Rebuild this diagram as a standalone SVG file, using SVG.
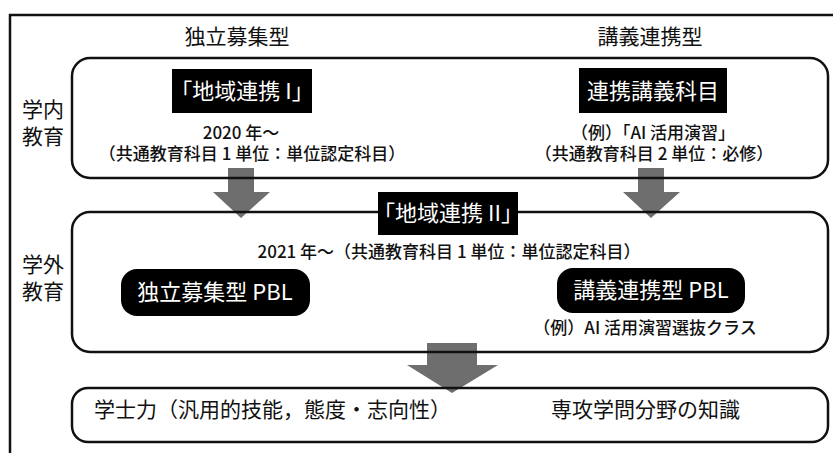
<svg xmlns="http://www.w3.org/2000/svg" width="833" height="453" viewBox="0 0 833 453">
<style>
text{font-family:"Noto Sans CJK JP","Noto Sans",sans-serif;fill:#111}
.h{font-size:21px}
.s{font-size:17px;font-weight:500}
.w{fill:#fff;font-size:22px}
.box{fill:none;stroke:#111;stroke-width:2.5}
.blk{fill:#000}
.arr{fill:#6e6e6e}
</style>
<rect width="833" height="453" fill="#fff"/>
<path d="M10,453 V15 H833" fill="none" stroke="#111" stroke-width="2.5"/>
<g id="connectors">
<polygon class="arr" points="228,168 254,168 254,192 270,192 241,218 213,192 228,192"/>
<polygon class="arr" points="638,168 664,168 664,192 680,192 651,218 623,192 638,192"/>
<polygon class="arr" points="427,343 477,343 477,365 498,365 452,393 407,365 427,365"/>
</g>
<g id="headers">
<text class="h" x="237" y="44" text-anchor="middle">独立募集型</text>
<text class="h" x="650" y="44" text-anchor="middle">講義連携型</text>
</g>
<g id="inner">
<rect class="box" x="72" y="58" width="756" height="120" rx="18"/>
<text class="h" text-anchor="middle"><tspan x="43" y="117">学内</tspan><tspan x="43" y="144">教育</tspan></text>
</g>
<g id="chiiki1">
<rect class="blk" x="172" y="69" width="140" height="44"/>
<text class="w" x="242" y="99" text-anchor="middle">「地域連携 I」</text>
<text class="s" text-anchor="middle"><tspan x="241" y="139">2020 年～</tspan><tspan x="252" y="160">（共通教育科目 1 単位：単位認定科目）</tspan></text>
</g>
<g id="renkei">
<rect class="blk" x="579" y="68" width="148" height="45"/>
<text class="w" x="653" y="99" text-anchor="middle">連携講義科目</text>
<text class="s" text-anchor="middle"><tspan x="653" y="139">（例）「AI 活用演習」</tspan><tspan x="654" y="160">（共通教育科目 2 単位：必修）</tspan></text>
</g>
<g id="outer">
<rect class="box" x="72" y="212" width="756" height="140" rx="18"/>
<text class="h" text-anchor="middle"><tspan x="43" y="272">学外</tspan><tspan x="43" y="299">教育</tspan></text>
</g>
<g id="chiiki2">
<rect class="blk" x="378" y="192" width="140" height="43"/>
<text class="w" x="448" y="221" text-anchor="middle">「地域連携 II」</text>
<text class="s" x="449" y="258" text-anchor="middle">2021 年～（共通教育科目 1 単位：単位認定科目）</text>
</g>
<g id="pbl1">
<rect class="blk" x="121" y="269" width="189" height="47" rx="16"/>
<text class="w" x="215" y="300" text-anchor="middle">独立募集型 PBL</text>
</g>
<g id="pbl2">
<rect class="blk" x="557" y="268" width="188" height="45" rx="16"/>
<text class="w" x="651" y="298" text-anchor="middle">講義連携型 PBL</text>
<text class="s" x="645" y="334" text-anchor="middle">（例）AI 活用演習選抜クラス</text>
</g>
<g id="result">
<rect class="box" x="72" y="388" width="756" height="54" rx="16"/>
<text class="h" x="94" y="417">学士力（汎用的技能，態度・志向性）</text>
<text class="h" x="551" y="417">専攻学問分野の知識</text>
</g>
</svg>
